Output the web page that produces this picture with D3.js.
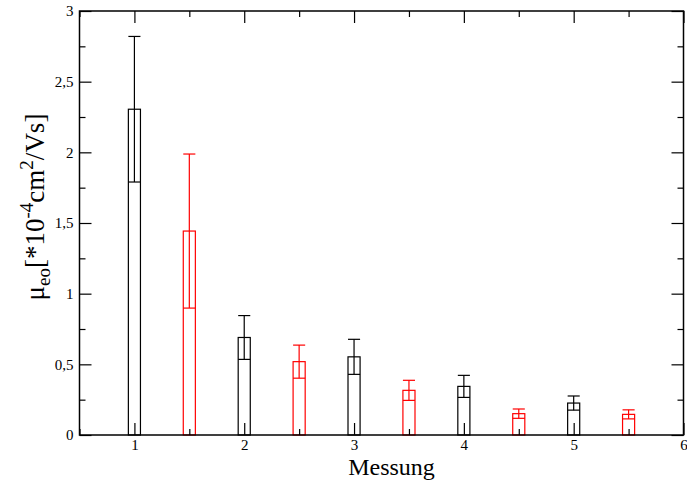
<!DOCTYPE html>
<html><head><meta charset="utf-8">
<script src="https://cdn.jsdelivr.net/npm/d3@7"></script>
<style>
html,body{margin:0;padding:0;background:#fff;}
text{font-family:"Liberation Serif","Times New Roman",serif;}
</style></head>
<body>
<svg id="chart" width="687" height="481"></svg>
<script>
// ---- data ----
const blackX = [1, 2, 3, 4, 5];
const blackValues = [2.305, 0.690, 0.553, 0.344, 0.226];
const blackErrors = [0.515, 0.155, 0.124, 0.078, 0.050];
const redX = [1.5, 2.5, 3.5, 4.5, 5.5];
const redValues = [1.443, 0.519, 0.316, 0.151, 0.146];
const redErrors = [0.545, 0.117, 0.071, 0.033, 0.032];
const xTicks = [1, 2, 3, 4, 5, 6];
const xMinorTicks = [0.5, 1.5, 2.5, 3.5, 4.5, 5.5];
const yTicks = [0, 0.5, 1, 1.5, 2, 2.5, 3];
const yTickLabels = ["0", "0,5", "1", "1,5", "2", "2,5", "3"];
const yMinorTicks = [0.25, 0.75, 1.25, 1.75, 2.25, 2.75];
const xTitle = "Messung";

// ---- layout ----
const pL = 79.5, pR = 683.5, pT = 11, pB = 435;
const barHalf = 0.055; // data units
const svg = d3.select("#chart");
const x = d3.scaleLinear().domain([0.5, 6]).range([pL, pR]);
const y = d3.scaleLinear().domain([0, 3]).range([pB, pT]);

const series = [
  {xs: blackX, vals: blackValues, errs: blackErrors, color: "#000"},
  {xs: redX, vals: redValues, errs: redErrors, color: "#ff0000"}
];

series.forEach(s => {
  const g = svg.append("g").attr("fill", "none").attr("stroke", s.color).attr("stroke-width", 1.2);
  const d = s.xs.map((xv, i) => ({x: xv, v: s.vals[i], e: s.errs[i]}));
  g.selectAll("rect").data(d).join("rect")
    .attr("x", p => x(p.x - barHalf)).attr("width", p => x(p.x + barHalf) - x(p.x - barHalf))
    .attr("y", p => y(p.v)).attr("height", p => y(0) - y(p.v));
  g.selectAll("line.v").data(d).join("line").attr("class", "v")
    .attr("x1", p => x(p.x)).attr("x2", p => x(p.x))
    .attr("y1", p => y(p.v + p.e)).attr("y2", p => y(p.v - p.e));
  g.selectAll("line.ct").data(d).join("line").attr("class", "ct")
    .attr("x1", p => x(p.x - barHalf)).attr("x2", p => x(p.x + barHalf))
    .attr("y1", p => y(p.v + p.e)).attr("y2", p => y(p.v + p.e));
  g.selectAll("line.cb").data(d).join("line").attr("class", "cb")
    .attr("x1", p => x(p.x - barHalf)).attr("x2", p => x(p.x + barHalf))
    .attr("y1", p => y(p.v - p.e)).attr("y2", p => y(p.v - p.e));
});

// ---- axes (inward ticks) ----
function styleAxis(g) {
  g.select(".domain").remove();
  g.selectAll(".tick line").attr("stroke", "#000").attr("stroke-width", 1.2);
  g.attr("font-family", "'Liberation Serif', serif").attr("font-size", 15);
  g.selectAll("text").attr("fill", "#000");
}
svg.append("g").attr("transform", `translate(0,${pB})`)
  .call(d3.axisBottom(x).tickValues(xTicks).tickSize(-12).tickPadding(4).tickFormat(d3.format("d")))
  .call(styleAxis);
svg.append("g").attr("transform", `translate(0,${pB})`)
  .call(d3.axisBottom(x).tickValues(xMinorTicks).tickSize(-6).tickFormat(""))
  .call(styleAxis);
svg.append("g").attr("transform", `translate(0,${pT})`)
  .call(d3.axisTop(x).tickValues(xTicks).tickSize(-12).tickFormat(""))
  .call(styleAxis);
svg.append("g").attr("transform", `translate(0,${pT})`)
  .call(d3.axisTop(x).tickValues(xMinorTicks).tickSize(-6).tickFormat(""))
  .call(styleAxis);
svg.append("g").attr("transform", `translate(${pL},0)`)
  .call(d3.axisLeft(y).tickValues(yTicks).tickSize(-12).tickPadding(6).tickFormat((d, i) => yTickLabels[i]))
  .call(styleAxis);
svg.append("g").attr("transform", `translate(${pL},0)`)
  .call(d3.axisLeft(y).tickValues(yMinorTicks).tickSize(-6).tickFormat(""))
  .call(styleAxis);
svg.append("g").attr("transform", `translate(${pR},0)`)
  .call(d3.axisRight(y).tickValues(yTicks).tickSize(-12).tickFormat(""))
  .call(styleAxis);
svg.append("g").attr("transform", `translate(${pR},0)`)
  .call(d3.axisRight(y).tickValues(yMinorTicks).tickSize(-6).tickFormat(""))
  .call(styleAxis);

// frame
svg.append("rect").attr("x", pL).attr("y", pT).attr("width", pR - pL).attr("height", pB - pT)
  .attr("fill", "none").attr("stroke", "#000").attr("stroke-width", 1.5);

// titles
svg.append("text").attr("x", (pL + pR) / 2 + 10).attr("y", 475)
  .attr("text-anchor", "middle").attr("font-size", 24).text(xTitle);

const yl = svg.append("text").attr("transform", "translate(44,207) rotate(-90)")
  .attr("text-anchor", "middle").attr("font-size", 27);
yl.append("tspan").text("μ");
yl.append("tspan").attr("font-size", 19).attr("dy", 6).text("eo");
yl.append("tspan").attr("dy", -6).text("[*10");
yl.append("tspan").attr("font-size", 19).attr("dy", -11).text("-4");
yl.append("tspan").attr("dy", 11).text("cm");
yl.append("tspan").attr("font-size", 19).attr("dy", -11).text("2");
yl.append("tspan").attr("dy", 11).text("/Vs]");
</script>
</body></html>
